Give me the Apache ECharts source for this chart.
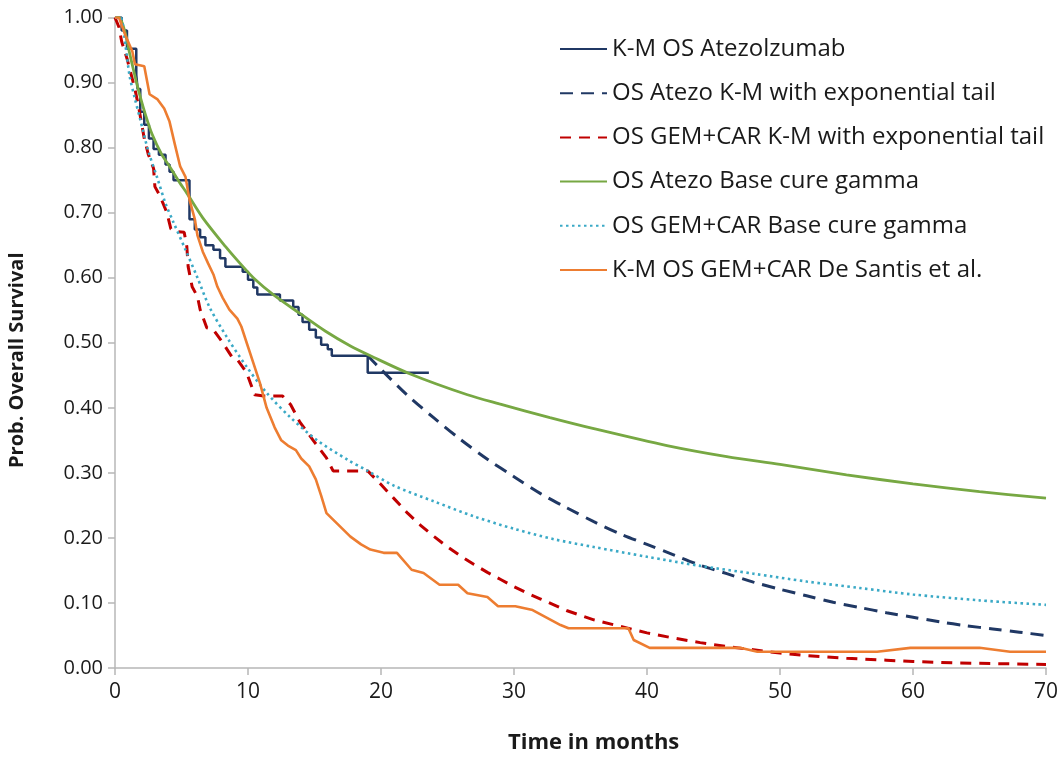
<!DOCTYPE html>
<html>
<head>
<meta charset="utf-8">
<script src="https://cdn.jsdelivr.net/npm/echarts@6/dist/echarts.min.js"></script>
<style>
  html, body { margin: 0; padding: 0; background: #ffffff; }
  #chart { width: 1062px; height: 761px; }
</style>
</head>
<body>
<div id="chart"></div>
<script>
// Overall survival curves (months vs probability)
const seriesNames = [
  'K-M OS Atezolzumab',
  'OS Atezo K-M with exponential tail',
  'OS GEM+CAR K-M with exponential tail',
  'OS Atezo Base cure gamma',
  'OS GEM+CAR Base cure gamma',
  'K-M OS GEM+CAR De Santis et al.'
];

const xTicks = [0, 10, 20, 30, 40, 50, 60, 70];
const yTicks = [0, 0.1, 0.2, 0.3, 0.4, 0.5, 0.6, 0.7, 0.8, 0.9, 1.0];

// Kaplan-Meier, atezolizumab (step function)
const kmAtezoT = [0, 0.5, 0.9, 1.6, 1.7, 1.9, 2.2, 2.55, 2.9, 3.3, 3.8, 4.1, 4.4, 5.6, 6.0, 6.4, 6.8, 7.4, 7.9, 8.3, 9.6, 10.0, 10.4, 10.7, 12.4, 13.4, 13.8, 14.1, 14.6, 15.1, 15.5, 16.0, 16.3, 19.0, 23.6];
const kmAtezoS = [1.0, 0.98, 0.952, 0.912, 0.89, 0.855, 0.835, 0.814, 0.798, 0.789, 0.774, 0.763, 0.75, 0.69, 0.674, 0.662, 0.65, 0.643, 0.63, 0.617, 0.609, 0.597, 0.585, 0.574, 0.565, 0.555, 0.543, 0.532, 0.52, 0.508, 0.497, 0.49, 0.48, 0.454, 0.454];

// Atezolizumab K-M with exponential tail (tail part)
const expAtezoT = [19, 20, 22, 24, 26, 28, 30, 32, 34, 36, 38, 40, 42, 44, 46, 48, 50, 52, 54, 56, 58, 60, 62, 64, 66, 68, 70];
const expAtezoS = [0.48, 0.459, 0.419, 0.384, 0.351, 0.321, 0.294, 0.268, 0.246, 0.225, 0.206, 0.19, 0.174, 0.158, 0.145, 0.132, 0.121, 0.111, 0.101, 0.093, 0.085, 0.078, 0.071, 0.065, 0.06, 0.055, 0.05];

// GEM+CAR K-M with exponential tail
const expGemT = [0, 0.3, 0.5, 0.9, 1.5, 1.8, 2.2, 2.5, 2.9, 3.0, 3.4, 3.9, 4.2, 4.6, 5.2, 5.4, 5.5, 5.8, 6.2, 6.4, 6.9, 7.4, 8.1, 8.8, 9.2, 9.9, 10.5, 11.2, 12.6, 13.2, 13.9, 14.9, 15.9, 16.4, 19.0, 20, 21, 22, 23, 24, 25, 26, 27, 28, 29, 30, 31, 32, 33, 34, 35, 36, 38, 40, 42, 44, 46, 48, 50, 52, 55, 58, 60, 63, 66, 70];
const expGemS = [1.0, 0.985, 0.963, 0.937, 0.89, 0.86, 0.814, 0.79, 0.768, 0.74, 0.725, 0.70, 0.675, 0.671, 0.67, 0.648, 0.617, 0.586, 0.571, 0.551, 0.523, 0.52, 0.50, 0.478, 0.474, 0.454, 0.42, 0.418, 0.418, 0.405, 0.378, 0.35, 0.323, 0.303, 0.303, 0.282, 0.26, 0.238, 0.219, 0.202, 0.186, 0.172, 0.159, 0.147, 0.136, 0.125, 0.115, 0.106, 0.097, 0.088, 0.081, 0.074, 0.064, 0.054, 0.046, 0.039, 0.033, 0.028, 0.023, 0.019, 0.015, 0.012, 0.010, 0.008, 0.0068, 0.0055];

// Atezolizumab base cure model (gamma)
const cureAtezoT = [0, 0.3, 0.75, 1.1, 1.5, 1.9, 2.3, 2.8, 3.5, 4.2, 4.9, 5.4, 6.6, 8.3, 9.4, 10.5, 11.9, 13.9, 15.8, 17.7, 19.2, 22.2, 26.5, 28.9, 32.7, 36, 41.5, 46, 50, 55, 60, 65, 70];
const cureAtezoS = [1.0, 1.0, 0.978, 0.945, 0.91, 0.878, 0.85, 0.82, 0.79, 0.768, 0.745, 0.73, 0.692, 0.648, 0.622, 0.598, 0.574, 0.545, 0.518, 0.495, 0.48, 0.452, 0.42, 0.406, 0.385, 0.368, 0.342, 0.325, 0.313, 0.297, 0.283, 0.271, 0.261];

// GEM+CAR base cure model (gamma)
const cureGemT = [0, 0.4, 0.8, 1.1, 1.5, 1.9, 2.5, 3.2, 3.8, 4.4, 5.3, 6.2, 7.1, 8.4, 9.9, 11.4, 13.2, 15.2, 17.5, 19, 21, 24, 27, 30, 33, 36, 40, 44, 48, 52, 56, 60, 65, 70];
const cureGemS = [1.0, 1.0, 0.955, 0.91, 0.875, 0.843, 0.795, 0.752, 0.714, 0.685, 0.643, 0.60, 0.555, 0.509, 0.463, 0.423, 0.385, 0.35, 0.32, 0.303, 0.28, 0.256, 0.233, 0.214, 0.198, 0.186, 0.171, 0.157, 0.145, 0.133, 0.123, 0.113, 0.104, 0.097];

// Kaplan-Meier, GEM+CAR (De Santis et al.)
const kmGemT = [0, 0.3, 0.75, 1.3, 1.5, 2.2, 2.6, 3.2, 3.7, 4.1, 4.5, 4.9, 5.3, 5.6, 6.0, 6.2, 6.6, 7.0, 7.4, 7.7, 8.1, 8.6, 9.2, 9.5, 9.9, 10.4, 10.9, 11.4, 12.0, 12.5, 13.0, 13.6, 14.0, 14.6, 15.1, 15.5, 15.9, 16.8, 17.7, 18.5, 19.2, 20.2, 21.2, 22.3, 23.2, 24.4, 25.8, 26.5, 28.0, 28.8, 30.1, 31.4, 33.5, 34.1, 38.6, 39.0, 40.2, 47.0, 48.3, 57.3, 59.8, 65.0, 67.3, 70];
const kmGemS = [1.0, 1.0, 0.974, 0.948, 0.928, 0.925, 0.882, 0.874, 0.86, 0.84, 0.805, 0.771, 0.755, 0.72, 0.69, 0.665, 0.64, 0.622, 0.605, 0.586, 0.569, 0.551, 0.537, 0.525, 0.50, 0.469, 0.438, 0.40, 0.37, 0.35, 0.342, 0.335, 0.322, 0.31, 0.29, 0.265, 0.238, 0.22, 0.202, 0.19, 0.182, 0.177, 0.177, 0.151, 0.146, 0.128, 0.128, 0.115, 0.109, 0.095, 0.095, 0.089, 0.066, 0.061, 0.061, 0.043, 0.031, 0.031, 0.025, 0.025, 0.031, 0.031, 0.025, 0.025];

const zip = (t, s) => t.map((v, i) => [v, s[i]]);

const colors = {
  navy: '#203864',
  red: '#c00000',
  green: '#77a843',
  teal: '#3aa9c6',
  orange: '#ed7d31'
};

const fontMain = "'Open Sans', 'Liberation Sans', sans-serif";

const chart = echarts.init(document.getElementById('chart'), null, { renderer: 'canvas' });

const lineSeries = (name, data, color, type, width, extra) => Object.assign({
  name: name,
  type: 'line',
  data: data,
  symbol: 'none',
  showSymbol: false,
  animation: false,
  lineStyle: { color: color, width: width, type: type },
  itemStyle: { color: color }
}, extra || {});

chart.setOption({
  backgroundColor: '#ffffff',
  animation: false,
  grid: { left: 115, right: 16, top: 17.5, bottom: 93, containLabel: false },
  xAxis: {
    type: 'value',
    min: xTicks[0],
    max: xTicks[xTicks.length - 1],
    interval: 10,
    splitLine: { show: false },
    axisLine: { onZero: false, lineStyle: { color: '#b7b7b7', width: 1.5 } },
    axisTick: { show: true, inside: false, length: 7, lineStyle: { color: '#b7b7b7', width: 1.5 } },
    axisLabel: { margin: 14, fontSize: 21, color: '#1a1a1a', fontFamily: fontMain }
  },
  yAxis: {
    type: 'value',
    min: yTicks[0],
    max: yTicks[yTicks.length - 1],
    interval: 0.1,
    splitLine: { show: false },
    axisLine: { show: true, lineStyle: { color: '#b7b7b7', width: 1.5 } },
    axisTick: { show: true, inside: false, length: 7, lineStyle: { color: '#b7b7b7', width: 1.5 } },
    axisLabel: {
      margin: 12, fontSize: 20, color: '#1a1a1a', fontFamily: fontMain,
      formatter: v => v.toFixed(2)
    }
  },
  legend: {
    orient: 'vertical',
    left: 554,
    top: 32,
    itemWidth: 47,
    itemHeight: 14,
    itemGap: 20.2,
    itemStyle: { opacity: 0 },
    textStyle: { fontSize: 24, color: '#1a1a1a', fontFamily: fontMain },
    data: seriesNames
  },
  graphic: [
    {
      type: 'text',
      left: 508,
      top: 732,
      style: { text: 'Time in months', font: "bold 22px " + fontMain, fill: '#1a1a1a' }
    },
    {
      type: 'text',
      x: 7,
      y: 468,
      rotation: Math.PI / 2,
      style: { text: 'Prob. Overall Survival', font: "bold 20px " + fontMain, fill: '#1a1a1a' }
    }
  ],
  series: [
    lineSeries(seriesNames[0], zip(kmAtezoT, kmAtezoS), colors.navy, 'solid', 2.5, { step: 'end' }),
    lineSeries(seriesNames[1], zip(expAtezoT, expAtezoS), colors.navy, [13, 8], 3, { smooth: 0.3 }),
    lineSeries(seriesNames[2], zip(expGemT, expGemS), colors.red, [11, 8], 3),
    lineSeries(seriesNames[3], zip(cureAtezoT, cureAtezoS), colors.green, 'solid', 2.8, { smooth: 0.3 }),
    lineSeries(seriesNames[4], zip(cureGemT, cureGemS), colors.teal, [2.5, 3.5], 2.6, { smooth: 0.3 }),
    lineSeries(seriesNames[5], zip(kmGemT, kmGemS), colors.orange, 'solid', 2.6)
  ]
});
</script>
</body>
</html>
